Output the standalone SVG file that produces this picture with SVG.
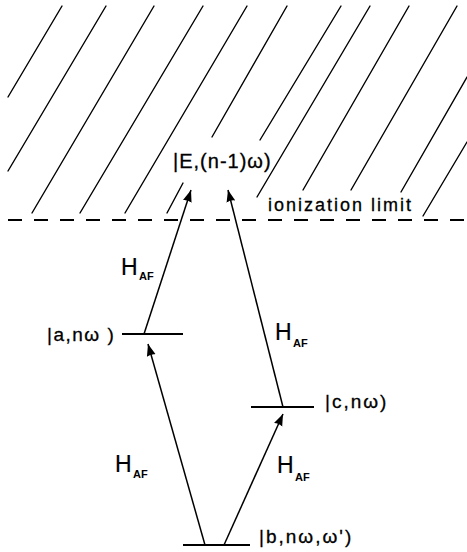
<svg xmlns="http://www.w3.org/2000/svg" width="467" height="552" viewBox="0 0 467 552">
<defs>
<style>
.ln{stroke:#000;stroke-width:1.4;fill:none;stroke-linecap:round}
.lv{stroke:#000;stroke-width:1.8;fill:none}
.dash{stroke:#000;stroke-width:1.8;fill:none;stroke-dasharray:14 12}
.lbl{font-family:"Liberation Sans",Arial,sans-serif;font-size:19px;letter-spacing:2px;fill:#000;stroke:#000;stroke-width:0.3}
.h{font-family:"Liberation Sans",Arial,sans-serif;font-size:23px;fill:#000;stroke:#000;stroke-width:0.2}
.sub{font-family:"Liberation Sans",Arial,sans-serif;font-size:11px;font-weight:bold;fill:#000}
.arr{stroke:#000;stroke-width:1.5;fill:none;marker-end:url(#ah)}
</style>
<marker id="ah" markerUnits="userSpaceOnUse" markerWidth="14" markerHeight="10" refX="12" refY="5" orient="auto" viewBox="0 0 14 10">
<path d="M0,0.5 L12,5 L0,9.5 Q2,5 0,0.5 z" fill="#000"/>
</marker>
</defs>
<rect width="467" height="552" fill="#fff"/>
<g id="continuum">
<line class="ln" x1="8" y1="97" x2="62" y2="6"/>
<line class="ln" x1="8" y1="171" x2="106" y2="6"/>
<line class="ln" x1="32" y1="213" x2="154" y2="6"/>
<line class="ln" x1="80" y1="213" x2="203" y2="6"/>
<line class="ln" x1="125" y1="213" x2="247" y2="6"/>
<line class="ln" x1="167" y1="213" x2="183" y2="183"/>
<line class="ln" x1="212" y1="137" x2="287" y2="6"/>
<line class="ln" x1="260" y1="140" x2="341" y2="6"/>
<line class="ln" x1="257" y1="197" x2="370" y2="6"/>
<line class="ln" x1="303" y1="190" x2="409" y2="6"/>
<line class="ln" x1="351" y1="190" x2="457" y2="6"/>
<line class="ln" x1="401" y1="192" x2="467" y2="77"/>
<line class="ln" x1="423" y1="216" x2="467" y2="142"/>
<line class="dash" x1="8" y1="220" x2="467" y2="220"/>
<text class="lbl" x="268" y="211" style="font-size:18px">ionization limit</text>
<text class="lbl" x="173" y="168" style="font-size:20px;letter-spacing:1px">|E,(n-1)ω)</text>
</g>
<g id="level-a">
<line class="lv" x1="122" y1="334" x2="183" y2="334"/>
<text class="lbl" x="47" y="341" style="letter-spacing:1.5px">|a,nω )</text>
</g>
<g id="level-c">
<line class="lv" x1="251" y1="407" x2="314" y2="407"/>
<text class="lbl" x="325" y="408">|c,nω)</text>
</g>
<g id="level-b">
<line class="lv" x1="183" y1="545" x2="250" y2="545"/>
<text class="lbl" x="259" y="543">|b,nω,ω')</text>
</g>
<g id="connectors">
<line class="arr" x1="205" y1="545" x2="148" y2="344"/>
<line class="arr" x1="224" y1="545" x2="283" y2="414"/>
<line class="arr" x1="144" y1="334" x2="191" y2="190"/>
<line class="arr" x1="283" y1="407" x2="228" y2="190"/>
<text class="h" x="121" y="275">H</text>
<text class="sub" x="139" y="280">AF</text>
<text class="h" x="275" y="340">H</text>
<text class="sub" x="293" y="347">AF</text>
<text class="h" x="115" y="472">H</text>
<text class="sub" x="133" y="478">AF</text>
<text class="h" x="277" y="473">H</text>
<text class="sub" x="295" y="481">AF</text>
</g>
</svg>
